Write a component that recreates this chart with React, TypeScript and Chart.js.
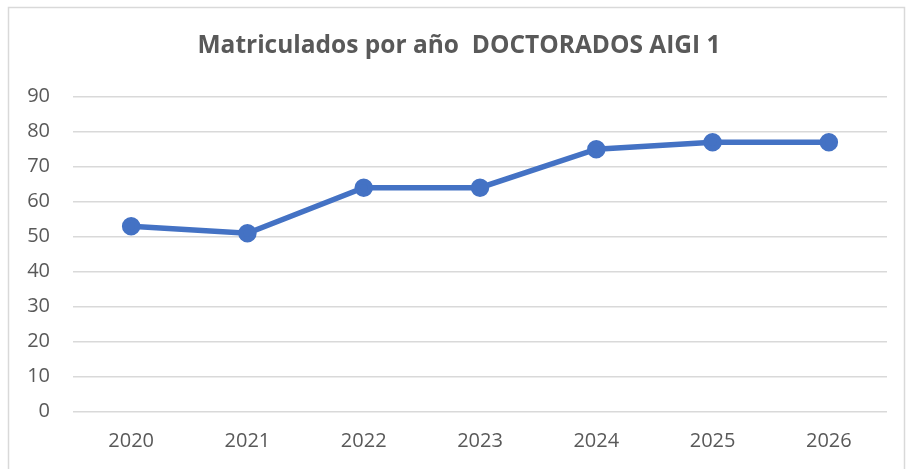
import React, { useEffect, useRef } from "react";
import { Chart, registerables } from "chart.js";

Chart.register(...registerables);

const categories = ["2020", "2021", "2022", "2023", "2024", "2025", "2026"];
const values = [53, 51, 64, 64, 75, 77, 77];
const titleText = "Matriculados por año  DOCTORADOS AIGI 1";
const seriesLabel = "Matriculados";

const FONT = "'Open Sans', sans-serif";
const TEXT = "#595959";

const borderPlugin = {
  id: "outerBorder",
  beforeDraw(chart: any) {
    const ctx = chart.ctx;
    ctx.save();
    ctx.fillStyle = "#ffffff";
    ctx.fillRect(0, 0, chart.width, chart.height);
    ctx.strokeStyle = "#d9d9d9";
    ctx.lineWidth = 1.5;
    ctx.strokeRect(8.5, 7.5, 896, 480);
    ctx.fillStyle = TEXT;
    ctx.font = `bold 24.5px ${FONT}`;
    ctx.textAlign = "center";
    ctx.textBaseline = "alphabetic";
    ctx.fillText(titleText, 459, 53);
    ctx.restore();
  },
};

export default function App() {
  const ref = useRef<HTMLCanvasElement>(null);
  useEffect(() => {
    if (!ref.current) return;
    const chart = new Chart(ref.current, {
      type: "line",
      data: {
        labels: categories,
        datasets: [
          {
            label: seriesLabel,
            data: values,
            borderColor: "#4472C4",
            backgroundColor: "#4472C4",
            borderWidth: 5.5,
            pointRadius: 6.5,
            pointBackgroundColor: "#4472C4",
            pointBorderColor: "#4472C4",
            tension: 0,
          },
        ],
      },
      options: {
        animation: false,
        responsive: false,
        maintainAspectRatio: false,
        layout: { padding: { left: 0, right: 19, top: 96.7, bottom: 0 } },
        plugins: {
          legend: { display: false },
          tooltip: { enabled: false },
          title: { display: false },
        },
        scales: {
          x: {
            offset: true,
            grid: { display: false, drawTicks: false },
            border: { display: false },
            ticks: {
              color: TEXT,
              font: { family: FONT, size: 20 },
              padding: 18,
              maxRotation: 0,
            },
            afterFit(s: any) {
              s.height = 57.3;
            },
          },
          y: {
            min: 0,
            max: 90,
            ticks: {
              stepSize: 10,
              color: TEXT,
              font: { family: FONT, size: 20 },
              padding: 23,
            },
            grid: { color: "#d9d9d9", lineWidth: 1.5, drawTicks: false },
            border: { display: false },
            afterFit(s: any) {
              s.width = 73;
            },
          },
        },
      },
      plugins: [borderPlugin],
    });
    return () => chart.destroy();
  }, []);
  return (
    <div style={{ position: "absolute", left: 0, top: 0, width: 906, height: 469 }}>
      <canvas ref={ref} width={906} height={469} style={{ width: 906, height: 469 }} />
    </div>
  );
}
